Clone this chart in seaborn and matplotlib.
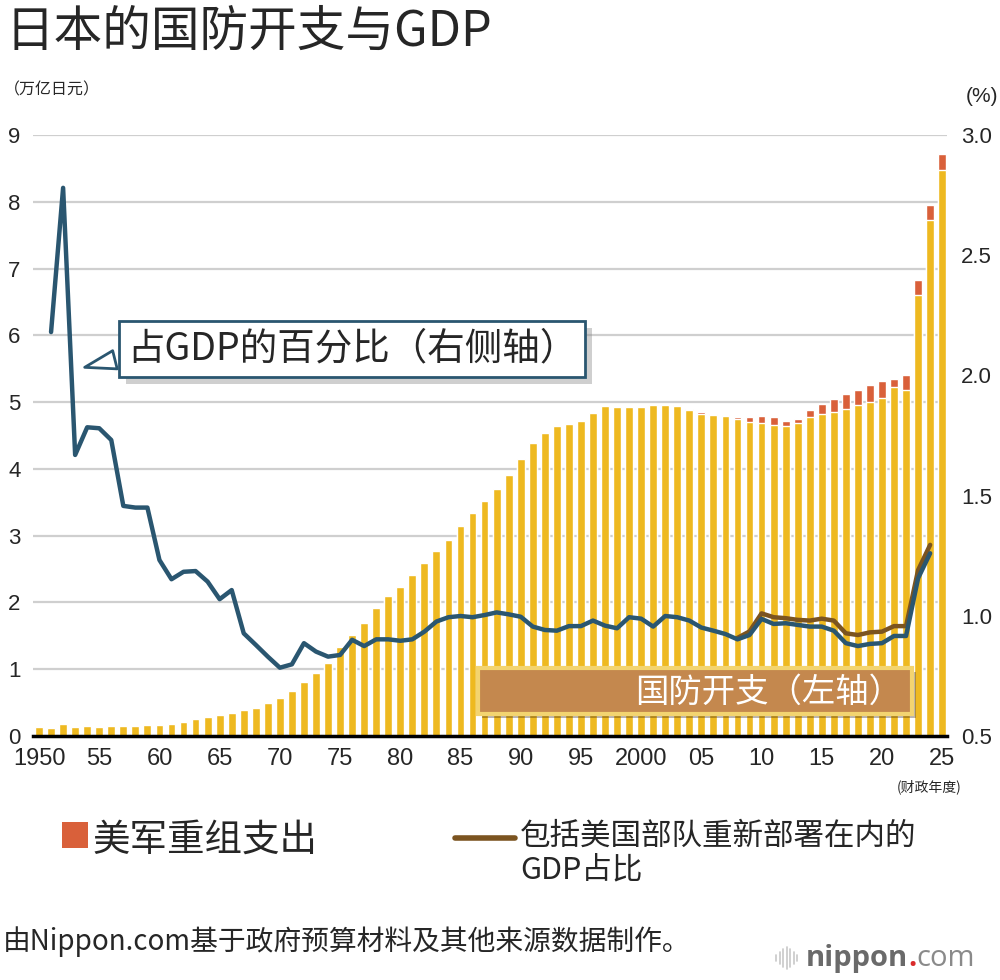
import numpy as np
import pandas as pd
import seaborn as sns
import matplotlib.pyplot as plt
from matplotlib import patheffects as pe
from matplotlib.patches import Rectangle
from matplotlib.lines import Line2D

# defense budget (trillion yen), fiscal years 1950-2025
years = list(range(1950, 2026))
defense = [0.14, 0.125, 0.18, 0.13, 0.145, 0.14, 0.145, 0.15, 0.155, 0.165,
           0.165, 0.185, 0.215, 0.25, 0.285, 0.31, 0.345, 0.39, 0.425, 0.49,
           0.575, 0.675, 0.81, 0.94, 1.10, 1.335, 1.515, 1.695, 1.91, 2.10,
           2.235, 2.405, 2.59, 2.765, 2.94, 3.14, 3.345, 3.516, 3.696, 3.915,
           4.155, 4.39, 4.544, 4.638, 4.678, 4.718, 4.838, 4.938, 4.928, 4.92,
           4.925, 4.955, 4.955, 4.935, 4.875, 4.825, 4.80, 4.785, 4.74, 4.705,
           4.69, 4.66, 4.645, 4.68, 4.78, 4.82, 4.855, 4.90, 4.96, 5.005,
           5.065, 5.22, 5.175, 6.60, 7.725, 8.474]
# US forces realignment costs (trillion yen)
realign = [0] * 53 + [0.02, 0.025, 0.025, 0.015, 0.015, 0.035, 0.07,
                      0.095, 0.11, 0.07, 0.07, 0.10, 0.155, 0.195, 0.225, 0.225, 0.25,
                      0.245, 0.12, 0.225, 0.227, 0.225, 0.236]

# share of GDP (%)
ratio_years = list(range(1951, 2025))
ratio = [2.18, 2.78, 1.669, 1.784, 1.78, 1.731, 1.457, 1.45, 1.45,
         1.232, 1.152, 1.183, 1.186, 1.142, 1.069, 1.107, 0.927, 0.879, 0.83,
         0.784, 0.798, 0.886, 0.851, 0.83, 0.837, 0.90, 0.874, 0.902, 0.902,
         0.896, 0.902, 0.934, 0.976, 0.994, 0.999, 0.994, 1.003, 1.014, 1.006,
         0.996, 0.955, 0.941, 0.938, 0.957, 0.957, 0.98, 0.959, 0.948, 0.994,
         0.988, 0.955, 0.999, 0.994, 0.98, 0.951, 0.938, 0.924, 0.902, 0.92,
         0.987, 0.966, 0.969, 0.962, 0.955, 0.955, 0.938, 0.886, 0.874, 0.883,
         0.886, 0.916, 0.916, 1.156, 1.26]
incl_years = list(range(2008, 2025))
ratio_incl = [0.908, 0.935, 1.01, 0.994, 0.99, 0.983, 0.98, 0.988, 0.98, 0.927,
              0.92, 0.931, 0.934, 0.957, 0.957, 1.19, 1.295]

xtick_years = list(range(1950, 2026, 5))
xtick_labels = ['1950', '55', '60', '65', '70', '75', '80', '85', '90', '95',
                '2000', '05', '10', '15', '20', '25']

YELLOW = '#EEB920'
ORANGE = '#D9603A'
BLUE = '#2A5670'
BROWN = '#7B5420'
NUM_FONT = 'Liberation Sans'

df = pd.DataFrame({'year': years, 'defense': defense,
                   'total': np.add(defense, realign)})

sns.set_theme(style='white')
plt.rcParams['font.family'] = ['Noto Sans CJK SC', 'DejaVu Sans']

fig = plt.figure(figsize=(10, 9.8), dpi=100)
ax = fig.add_axes([0.033, 0.249, 0.914, 0.6133])

# stacked bars: total in orange behind, defense budget in yellow in front
sns.barplot(data=df, x='year', y='total', native_scale=True, color=ORANGE,
            saturation=1, width=0.65, errorbar=None, ax=ax)
sns.barplot(data=df, x='year', y='defense', native_scale=True, color=YELLOW,
            saturation=1, width=0.65, errorbar=None, ax=ax)
ax.set_xlim(1949.5, 2025.4)
ax.set_ylim(0, 9)
ax.set_yticks(range(0, 10))
ax.set_xticks(xtick_years)
ax.set_xticklabels(xtick_labels)
ax.set_xlabel('')
ax.set_ylabel('')
ax.yaxis.grid(True, color='#cfcfcf', lw=1.6)
ax.set_axisbelow(True)
for s in ['left', 'right', 'top']:
    ax.spines[s].set_visible(False)
ax.spines['bottom'].set_color('black')
ax.spines['bottom'].set_linewidth(2.5)
ax.tick_params(axis='y', length=0, pad=9, labelsize=16)
ax.tick_params(axis='x', length=0, pad=9, labelsize=17)

ax2 = ax.twinx()
sns.lineplot(x=incl_years, y=ratio_incl, color=BROWN, linewidth=3.2, ax=ax2)
sns.lineplot(x=ratio_years, y=ratio, color=BLUE, linewidth=3.2, ax=ax2)
ax2.set_ylim(0.5, 3.0)
ax2.set_yticks([0.5, 1.0, 1.5, 2.0, 2.5, 3.0])
ax2.set_yticklabels(['0.5', '1.0', '1.5', '2.0', '2.5', '3.0'])
ax2.set_ylabel('')
for s in ax2.spines.values():
    s.set_visible(False)
ax2.tick_params(axis='y', length=0, pad=10, labelsize=16)

for lab in ax.get_xticklabels() + ax.get_yticklabels() + ax2.get_yticklabels():
    lab.set_fontfamily(NUM_FONT)

# titles and unit labels
fig.text(0.006, 1 - 32 / 980, '日本的国防开支与GDP', fontsize=35, va='center')
fig.text(0.004, 1 - 90 / 980, '（万亿日元）', fontsize=11.5, va='center')
fig.text(0.998, 1 - 96 / 980, '(%)', fontsize=15, va='center', ha='right',
         family=NUM_FONT)
fig.text(0.962, 1 - 787 / 980, '(财政年度)', fontsize=10, va='center', ha='right')

# callout for the line
ann = ax.annotate('占GDP的百分比（右侧轴）', xy=(0.082, 1 - 368 / 980),
                  xycoords='figure fraction', xytext=(0.352, 1 - 349 / 980),
                  textcoords='figure fraction', fontsize=27, ha='center',
                  va='center', zorder=20,
                  bbox=dict(boxstyle='square,pad=0.22', fc='white', ec=BLUE, lw=2),
                  arrowprops=dict(arrowstyle='wedge,tail_width=0.5', fc='white',
                                  ec=BLUE, lw=2, relpos=(0, 0.3)))
ann.get_bbox_patch().set_path_effects([
    pe.SimplePatchShadow(offset=(5, -5), shadow_rgbFace='#888888', alpha=0.4),
    pe.Normal()])

# label box for the bars
box = Rectangle((0.478, 1 - 714 / 980), 0.434, 46 / 980, transform=fig.transFigure,
                fc='#c4884e', ec='#f3d470', lw=3, zorder=20)
box.set_path_effects([pe.SimplePatchShadow(offset=(3, -3), alpha=0.35), pe.Normal()])
fig.add_artist(box)
fig.text(0.902, 1 - 692 / 980, '国防开支（左轴）', fontsize=24, color='white',
         ha='right', va='center', zorder=21)

# legend
fig.add_artist(Rectangle((0.062, 1 - 848 / 980), 0.026, 26 / 980,
                         transform=fig.transFigure, fc=ORANGE, ec='none'))
fig.text(0.092, 1 - 840 / 980, '美军重组支出', fontsize=27, va='center')
fig.add_artist(Line2D([0.455, 0.515], [1 - 838 / 980, 1 - 838 / 980],
                      transform=fig.transFigure, color=BROWN, lw=4))
fig.text(0.52, 1 - 821 / 980, '包括美国部队重新部署在内的\nGDP占比', fontsize=22,
         va='top', linespacing=1.1)

# footer
fig.text(0.003, 1 - 942 / 980, '由Nippon.com基于政府预算材料及其他来源数据制作。',
         fontsize=20, va='center')
logo_bars = [0.3, 0.55, 0.8, 1.0, 0.8, 0.55, 0.3]
for i, h in enumerate(logo_bars):
    xx = 0.776 + i * 0.0035
    fig.add_artist(Line2D([xx, xx], [1 - (958 + 11 * h) / 980, 1 - (958 - 11 * h) / 980],
                          transform=fig.transFigure, color='#c8c8c8', lw=1.2))
t1 = fig.text(0.806, 1 - 958 / 980, 'nippon', fontsize=21, weight='bold',
              color='#6a6a6a', va='center', family='Open Sans')
dot = ax.annotate('.', xy=(1, 0), xycoords=t1, fontsize=21, weight='bold',
                  color='#d92b2b', family='Open Sans', va='bottom',
                  annotation_clip=False)
ax.annotate('com', xy=(1, 0), xycoords=dot, fontsize=21, color='#8a8a8a',
            family='Open Sans', va='bottom', annotation_clip=False)

fig.savefig('out.png', dpi=100)
